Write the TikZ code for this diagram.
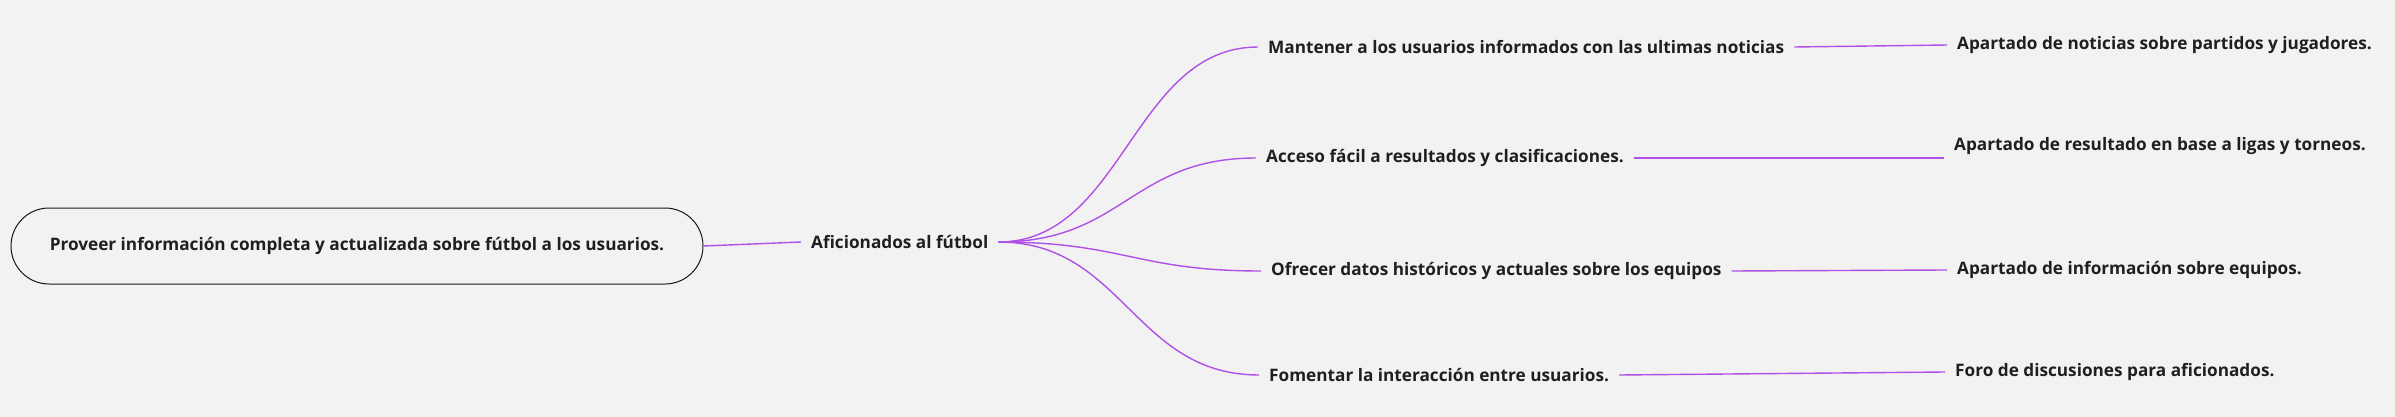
\documentclass[tikz,border=0pt]{standalone}
\usepackage{fontspec}
\setmainfont{Open Sans}
\usetikzlibrary{positioning}
\definecolor{bggrey}{RGB}{242,242,242}
\definecolor{linkpurple}{RGB}{176,80,230}

\begin{document}
\begin{tikzpicture}[x=1pt,y=-1pt,
		txt/.style={font=\fontsize{17.2}{20}\selectfont\bfseries, text=black!88, inner xsep=10pt, inner ysep=4pt, anchor=west},
		rootbox/.style={txt, anchor=center, draw=black!90, line width=1pt, rounded corners=38pt, minimum width=692pt, minimum height=76pt},
		link/.style={draw=linkpurple, line width=1.4pt}]
		\fill [bggrey] (0,0) rectangle (2395,417);
		\useasboundingbox (0,0) rectangle (2395,417);
		% root and central topic
		\node [rootbox] (root) at (357,246) {Proveer información completa y actualizada sobre fútbol a los usuarios.};
		\node [txt] (afic) at (801,242) {Aficionados al fútbol};
		% goals
		\node [txt] (mant) at (1258,47) {Mantener a los usuarios informados con las ultimas noticias};
		\node [txt] (acce) at (1256,158) {Acceso fácil a resultados y clasificaciones.};
		\node [txt] (ofre) at (1261,271) {Ofrecer datos históricos y actuales sobre los equipos};
		\node [txt] (fome) at (1259,375) {Fomentar la interacción entre usuarios.};
		% features
		\node [txt] (noti) at (1947,45) {Apartado de noticias sobre partidos y jugadores.};
		\node [txt] (resu) at (1944,146) {Apartado de resultado en base a ligas y torneos.};
		\node [txt] (equi) at (1947,270) {Apartado de información sobre equipos.};
		\node [txt] (foro) at (1945,372) {Foro de discusiones para aficionados.};
		% links
		\draw [link] (root.east) -- (afic.west);
		\draw [link] (afic.east) .. controls +(125,0) and +(-125,0) .. (mant.west);
		\draw [link] (afic.east) .. controls +(125,0) and +(-125,0) .. (acce.west);
		\draw [link] (afic.east) .. controls +(125,0) and +(-125,0) .. (ofre.west);
		\draw [link] (afic.east) .. controls +(125,0) and +(-125,0) .. (fome.west);
		\draw [link] (mant.east) -- (noti.west);
		\draw [link] (acce.east) -- (acce.east -| resu.west);
		\draw [link] (ofre.east) -- (equi.west);
		\draw [link] (fome.east) -- (foro.west);
\end{tikzpicture}
\end{document}
